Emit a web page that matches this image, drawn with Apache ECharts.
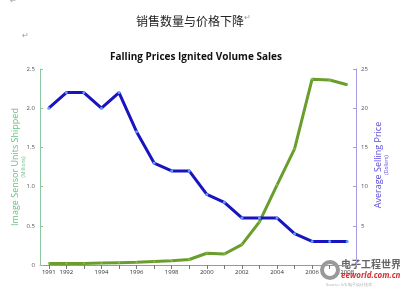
<!DOCTYPE html>
<html>
<head>
<meta charset="utf-8">
<script src="https://cdn.jsdelivr.net/npm/echarts@6/dist/echarts.min.js"></script>
<style>
html,body{margin:0;padding:0;background:#fff;}
#c{width:400px;height:291px;}
</style>
</head>
<body>
<div id="c"></div>
<script>
var years = ['1991','1992','1993','1994','1995','1996','1997','1998','1999','2000','2001','2002','2003','2004','2005','2006','2007','2008'];
var unitsShipped = [0.02,0.02,0.02,0.025,0.03,0.035,0.045,0.055,0.07,0.15,0.14,0.26,0.55,1.02,1.48,2.37,2.36,2.30];
var avgPrice = [20,22,22,20,22,17,13,12,12,9,8,6,6,6,4,3,3,3];
var leftTicks = [0,0.5,1.0,1.5,2.0,2.5];
var rightTicks = [0,5,10,15,20,25];

var chart = echarts.init(document.getElementById('c'), null, {renderer:'canvas'});
chart.setOption({
  backgroundColor:'#fff',
  animation:false,
  title:[
    {text:'销售数量与价格下降', left:131, top:10,
     textStyle:{fontFamily:'Noto Sans CJK SC', fontSize:12, fontWeight:'normal', color:'#222'}},
    {text:'Falling Prices Ignited Volume Sales', left:105, top:47,
     textStyle:{fontFamily:'Open Sans', fontSize:10, fontWeight:'bold', color:'#111'}}
  ],
  graphic:[
    {type:'text', left:244, top:14, style:{text:'↵', fontSize:8, fill:'#999'}},
    {type:'text', left:22, top:32, style:{text:'↵', fontSize:8, fill:'#999'}},
    {type:'text', left:10, top:-3, style:{text:'↵', fontSize:8, fill:'#999'}},
    {type:'text', x:15, y:167, rotation:Math.PI/2,
     style:{text:'Image Sensor Units Shipped', fontFamily:'Open Sans', fontSize:9, fill:'#6cbf84', align:'center', verticalAlign:'middle'}},
    {type:'text', x:24, y:167, rotation:Math.PI/2,
     style:{text:'(Millions)', fontFamily:'Open Sans', fontSize:5, fill:'#6cbf84', align:'center', verticalAlign:'middle'}},
    {type:'text', x:378, y:165, rotation:Math.PI/2,
     style:{text:'Average Selling Price', fontFamily:'Open Sans', fontSize:9, fill:'#5a4ad8', align:'center', verticalAlign:'middle'}},
    {type:'text', x:387, y:165, rotation:Math.PI/2,
     style:{text:'(Dollars)', fontFamily:'Open Sans', fontSize:5, fill:'#5a4ad8', align:'center', verticalAlign:'middle'}},
    {type:'rect', left:318, top:259, shape:{width:78, height:30}, style:{fill:'rgba(255,255,255,0.85)'}},
    {type:'circle', shape:{cx:330, cy:270, r:8}, style:{fill:'none', stroke:'#999', lineWidth:4}},
    {type:'text', left:341, top:259, style:{text:'电子工程世界', fontFamily:'Noto Sans CJK SC', fontSize:10, fontWeight:'bold', fill:'#666'}},
    {type:'text', left:341, top:272, style:{text:'eeworld.com.cn', fontFamily:'Open Sans', fontSize:8, fontStyle:'italic', fontWeight:'bold', fill:'#d03030'}},
    {type:'text', left:326, top:283, style:{text:'Source: 5/6 电子设计技术', fontFamily:'Open Sans', fontSize:4, fill:'#aaa'}}
  ],
  grid:{left:40, right:44, top:69, bottom:26},
  xAxis:{
    type:'category', data:years, boundaryGap:true,
    axisLine:{lineStyle:{color:'#999', width:1}},
    axisTick:{show:true, interval:0, alignWithLabel:true, length:4, inside:false, lineStyle:{color:'#777'}},
    axisLabel:{fontFamily:'Open Sans', fontSize:6, color:'#333', margin:4,
      interval:function(i, v){ return v==='1991' || (parseInt(v,10)%2===0); }},
    splitLine:{show:false}
  },
  yAxis:[
    {type:'value', min:leftTicks[0], max:leftTicks[leftTicks.length-1], interval:0.5, position:'left',
     axisLine:{show:true, lineStyle:{color:'#8cc8a0', width:1}},
     axisTick:{show:true, inside:true, length:3, lineStyle:{color:'#8cc8a0'}},
     axisLabel:{fontFamily:'Open Sans', fontSize:6, color:'#555', margin:5,
       formatter:function(v){ return v===0 ? '0' : v.toFixed(1); }},
     splitLine:{show:false}},
    {type:'value', min:rightTicks[0], max:rightTicks[rightTicks.length-1], interval:5, position:'right',
     axisLine:{show:true, lineStyle:{color:'#a99be0', width:1}},
     axisTick:{show:true, inside:true, length:3, lineStyle:{color:'#a99be0'}},
     axisLabel:{fontFamily:'Open Sans', fontSize:6, color:'#555', margin:5,
       formatter:function(v){ return v===0 ? '' : String(v); }},
     splitLine:{show:false}}
  ],
  series:[
    {type:'line', name:'Units', yAxisIndex:0, data:unitsShipped,
     lineStyle:{color:'#6a9e2c', width:3}, itemStyle:{color:'#8cbf50'},
     symbol:'circle', symbolSize:2, showSymbol:true, z:2},
    {type:'line', name:'Price', yAxisIndex:1, data:avgPrice,
     lineStyle:{color:'#1a14c0', width:3}, itemStyle:{color:'#5a9cff'},
     symbol:'circle', symbolSize:3, showSymbol:true, z:3}
  ]
});
</script>
</body>
</html>
